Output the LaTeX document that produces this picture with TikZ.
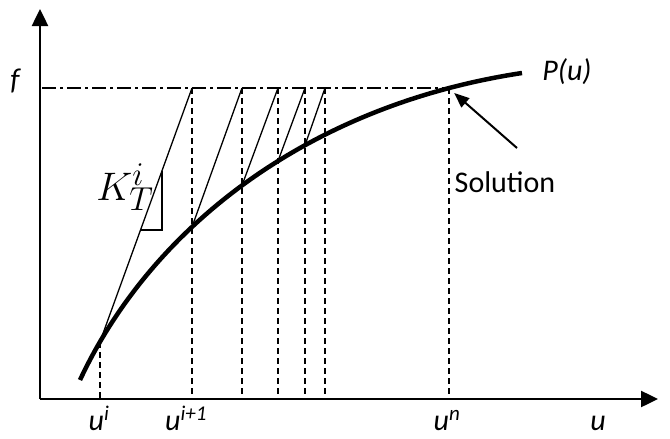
\documentclass[tikz,border=0pt]{standalone}
\usepackage{fontspec}
\setmainfont{Carlito}
\usetikzlibrary{arrows.meta,intersections}
\begin{document}
\begin{tikzpicture}[x=1pt,y=-1pt,
  axis/.style={line width=2.5pt,-{Triangle[length=17pt,width=16pt]}},
  curvestyle/.style={line width=4.5pt},
  thin/.style={line width=1.3pt},
  drop/.style={line width=1.8pt,dash pattern=on 6pt off 4pt},
  level/.style={line width=2pt,dash pattern=on 14pt off 4pt on 3pt off 4pt},
  lab/.style={font=\fontsize{30}{36}\selectfont\itshape,inner sep=0pt},
  txt/.style={font=\fontsize{30}{36}\selectfont,inner sep=0pt}]
\useasboundingbox (0,0) rectangle (670,439);
% axes corner and tips
\coordinate (O) at (40,399);
\coordinate (Ytip) at (40,9);
\coordinate (Xtip) at (658,399);
% curve P(u)
\coordinate (c0) at (80,380);
\coordinate (cend) at (522,73);
\path[name path=crv] (c0) .. controls (150,230) and (305,106) .. (cend);
\path[name path=hf] (40,88) -- (600,88);
\path[name intersections={of=crv and hf, by=c6}];
\foreach \n/\x in {1/100,2/192,3/242,4/278,5/305,6b/325}{
  \path[name path=v\n] (\x,0) -- (\x,439);
  \path[name intersections={of=crv and v\n, by=c\n}];
}
% level f
\coordinate (fy) at (O |- c6);
\coordinate (fy) at ([xshift=2pt]fy);
\coordinate (t1) at (c2 |- c6);
\coordinate (t2) at (c3 |- c6);
\coordinate (t3) at (c4 |- c6);
\coordinate (t4) at (c5 |- c6);
\coordinate (t5) at (c6b |- c6);
\coordinate (b1) at (c1 |- O);
\coordinate (b2) at (c2 |- O);
\coordinate (b3) at (c3 |- O);
\coordinate (b4) at (c4 |- O);
\coordinate (b5) at (c5 |- O);
\coordinate (b6) at (c6b |- O);
\coordinate (b7) at (c6 |- O);
% level line
\draw[level] (fy) -- (c6);
% drops
\draw[drop] (c1) -- (b1);
\draw[drop] (t1) -- (b2);
\draw[drop] (t2) -- (b3);
\draw[drop] (t3) -- (b4);
\draw[drop] (t4) -- (b5);
\draw[drop] (t5) -- (b6);
\draw[drop] (c6) -- (b7);
% tangents
\draw[thin] (c1) -- (t1);
\draw[thin] (c2) -- (t2);
\draw[thin] (c3) -- (t3);
\draw[thin] (c4) -- (t4);
\draw[thin] (c5) -- (t5);
% slope triangle
\path[name path=tan1] (c1) -- (t1);
\path[name path=h230] (100,230) -- (200,230);
\path[name path=v162] (162,100) -- (162,300);
\path[name intersections={of=tan1 and h230, by=k1}];
\path[name intersections={of=tan1 and v162, by=k3}];
\coordinate (k2) at (k3 |- k1);
\draw[thin] (k1) -- (k2) -- (k3);
% curve
\draw[curvestyle] (c0) .. controls (150,230) and (305,106) .. (cend);
% axes
\draw[axis] (O) -- (Ytip);
\draw[axis] (O) -- (Xtip);
% labels
\node[lab] (lf) at (15,81) {f};
\node[lab] (lP) at (567,72) {P(u)};
\node[txt,anchor=base] (lsol) at (505,192) {Solution};
\node[lab,anchor=base] (lui) at (99,430) {u\textsuperscript{i}};
\node[lab,anchor=base] (lui1) at (186,430) {u\textsuperscript{i+1}};
\node[lab,anchor=base] (lun) at (447,430) {u\textsuperscript{n}};
\node[lab,anchor=base] (lu) at (598,430) {u};
\node[inner sep=0pt,anchor=base west,scale=1.6,transform shape,font=\fontsize{24.88}{30}\selectfont] (lK) at (96,200) {$K_T^i$};
% solution arrow
\coordinate (sa) at (517,148);
\draw[line width=2pt,-{Triangle[length=15pt,width=12pt]}] (sa) -- ([shift={(5pt,-5pt)}]c6);
\end{tikzpicture}
\end{document}
